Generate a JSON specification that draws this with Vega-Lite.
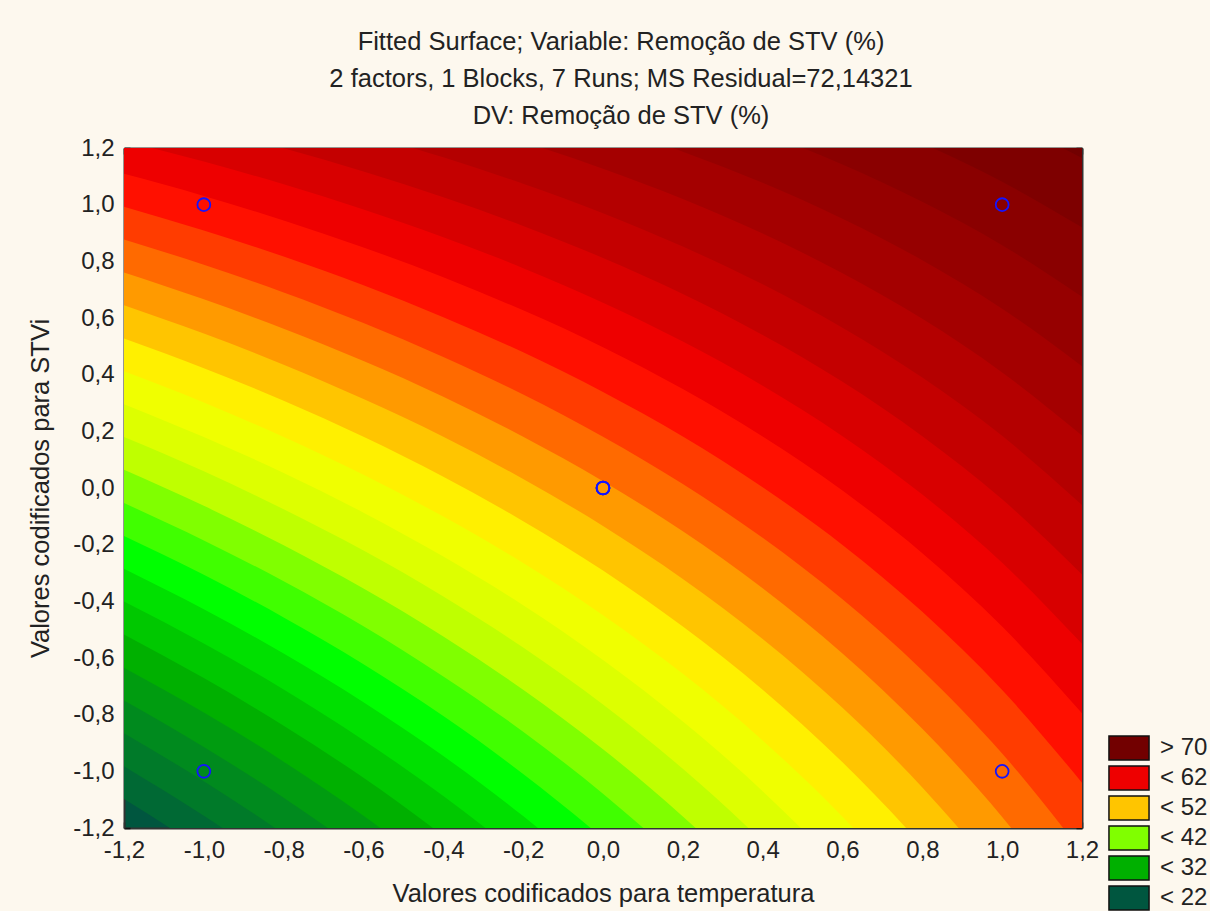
{
  "$schema": "https://vega.github.io/schema/vega-lite/v6.json",
  "width": 958,
  "height": 680,
  "autosize": {"type": "none"},
  "padding": {"left": 124, "top": 148, "right": 128, "bottom": 83},
  "background": "#FDF8EE",
  "title": {
    "text": ["Fitted Surface; Variable: Remoção de STV (%)", "2 factors, 1 Blocks, 7 Runs; MS Residual=72,14321", "DV: Remoção de STV (%)"],
    "anchor": "middle", "dx": 18, "offset": 7, "fontSize": 25.5, "lineHeight": 37,
    "font": "Liberation Sans", "fontWeight": "normal", "color": "#222222"
  },
  "datasets": {
    "contornos": [
      {"x":-1.2,"y":-1.098,"faixa":"< 24"},{"x":-1.0,"y":-1.278,"faixa":"< 24"},{"x":-0.8,"y":-1.475,"faixa":"< 24"},{"x":-0.6,"y":-1.692,"faixa":"< 24"},{"x":-0.4,"y":-1.932,"faixa":"< 24"},{"x":-0.2,"y":-2.199,"faixa":"< 24"},{"x":0,"y":-2.498,"faixa":"< 24"},{"x":0.2,"y":-2.834,"faixa":"< 24"},{"x":0.4,"y":-3.216,"faixa":"< 24"},{"x":0.6,"y":-3.653,"faixa":"< 24"},{"x":0.8,"y":-4.158,"faixa":"< 24"},{"x":1.0,"y":-4.749,"faixa":"< 24"},{"x":1.2,"y":-5.448,"faixa":"< 24"},
      {"x":-1.2,"y":-0.982,"faixa":"< 26"},{"x":-1.0,"y":-1.157,"faixa":"< 26"},{"x":-0.8,"y":-1.348,"faixa":"< 26"},{"x":-0.6,"y":-1.558,"faixa":"< 26"},{"x":-0.4,"y":-1.791,"faixa":"< 26"},{"x":-0.2,"y":-2.050,"faixa":"< 26"},{"x":0,"y":-2.340,"faixa":"< 26"},{"x":0.2,"y":-2.667,"faixa":"< 26"},{"x":0.4,"y":-3.037,"faixa":"< 26"},{"x":0.6,"y":-3.461,"faixa":"< 26"},{"x":0.8,"y":-3.951,"faixa":"< 26"},{"x":1.0,"y":-4.524,"faixa":"< 26"},{"x":1.2,"y":-5.203,"faixa":"< 26"},
      {"x":-1.2,"y":-0.866,"faixa":"< 28"},{"x":-1.0,"y":-1.035,"faixa":"< 28"},{"x":-0.8,"y":-1.221,"faixa":"< 28"},{"x":-0.6,"y":-1.425,"faixa":"< 28"},{"x":-0.4,"y":-1.651,"faixa":"< 28"},{"x":-0.2,"y":-1.902,"faixa":"< 28"},{"x":0,"y":-2.183,"faixa":"< 28"},{"x":0.2,"y":-2.499,"faixa":"< 28"},{"x":0.4,"y":-2.858,"faixa":"< 28"},{"x":0.6,"y":-3.270,"faixa":"< 28"},{"x":0.8,"y":-3.745,"faixa":"< 28"},{"x":1.0,"y":-4.300,"faixa":"< 28"},{"x":1.2,"y":-4.958,"faixa":"< 28"},
      {"x":-1.2,"y":-0.750,"faixa":"< 30"},{"x":-1.0,"y":-0.914,"faixa":"< 30"},{"x":-0.8,"y":-1.093,"faixa":"< 30"},{"x":-0.6,"y":-1.291,"faixa":"< 30"},{"x":-0.4,"y":-1.510,"faixa":"< 30"},{"x":-0.2,"y":-1.753,"faixa":"< 30"},{"x":0,"y":-2.025,"faixa":"< 30"},{"x":0.2,"y":-2.332,"faixa":"< 30"},{"x":0.4,"y":-2.680,"faixa":"< 30"},{"x":0.6,"y":-3.078,"faixa":"< 30"},{"x":0.8,"y":-3.538,"faixa":"< 30"},{"x":1.0,"y":-4.076,"faixa":"< 30"},{"x":1.2,"y":-4.713,"faixa":"< 30"},
      {"x":-1.2,"y":-0.634,"faixa":"< 32"},{"x":-1.0,"y":-0.792,"faixa":"< 32"},{"x":-0.8,"y":-0.966,"faixa":"< 32"},{"x":-0.6,"y":-1.157,"faixa":"< 32"},{"x":-0.4,"y":-1.369,"faixa":"< 32"},{"x":-0.2,"y":-1.604,"faixa":"< 32"},{"x":0,"y":-1.867,"faixa":"< 32"},{"x":0.2,"y":-2.164,"faixa":"< 32"},{"x":0.4,"y":-2.501,"faixa":"< 32"},{"x":0.6,"y":-2.886,"faixa":"< 32"},{"x":0.8,"y":-3.331,"faixa":"< 32"},{"x":1.0,"y":-3.852,"faixa":"< 32"},{"x":1.2,"y":-4.468,"faixa":"< 32"},
      {"x":-1.2,"y":-0.517,"faixa":"< 34"},{"x":-1.0,"y":-0.671,"faixa":"< 34"},{"x":-0.8,"y":-0.839,"faixa":"< 34"},{"x":-0.6,"y":-1.023,"faixa":"< 34"},{"x":-0.4,"y":-1.228,"faixa":"< 34"},{"x":-0.2,"y":-1.455,"faixa":"< 34"},{"x":0,"y":-1.710,"faixa":"< 34"},{"x":0.2,"y":-1.997,"faixa":"< 34"},{"x":0.4,"y":-2.322,"faixa":"< 34"},{"x":0.6,"y":-2.694,"faixa":"< 34"},{"x":0.8,"y":-3.124,"faixa":"< 34"},{"x":1.0,"y":-3.628,"faixa":"< 34"},{"x":1.2,"y":-4.224,"faixa":"< 34"},
      {"x":-1.2,"y":-0.401,"faixa":"< 36"},{"x":-1.0,"y":-0.549,"faixa":"< 36"},{"x":-0.8,"y":-0.711,"faixa":"< 36"},{"x":-0.6,"y":-0.890,"faixa":"< 36"},{"x":-0.4,"y":-1.087,"faixa":"< 36"},{"x":-0.2,"y":-1.307,"faixa":"< 36"},{"x":0,"y":-1.552,"faixa":"< 36"},{"x":0.2,"y":-1.829,"faixa":"< 36"},{"x":0.4,"y":-2.143,"faixa":"< 36"},{"x":0.6,"y":-2.502,"faixa":"< 36"},{"x":0.8,"y":-2.918,"faixa":"< 36"},{"x":1.0,"y":-3.403,"faixa":"< 36"},{"x":1.2,"y":-3.979,"faixa":"< 36"},
      {"x":-1.2,"y":-0.285,"faixa":"< 38"},{"x":-1.0,"y":-0.428,"faixa":"< 38"},{"x":-0.8,"y":-0.584,"faixa":"< 38"},{"x":-0.6,"y":-0.756,"faixa":"< 38"},{"x":-0.4,"y":-0.946,"faixa":"< 38"},{"x":-0.2,"y":-1.158,"faixa":"< 38"},{"x":0,"y":-1.395,"faixa":"< 38"},{"x":0.2,"y":-1.661,"faixa":"< 38"},{"x":0.4,"y":-1.964,"faixa":"< 38"},{"x":0.6,"y":-2.311,"faixa":"< 38"},{"x":0.8,"y":-2.711,"faixa":"< 38"},{"x":1.0,"y":-3.179,"faixa":"< 38"},{"x":1.2,"y":-3.734,"faixa":"< 38"},
      {"x":-1.2,"y":-0.169,"faixa":"< 40"},{"x":-1.0,"y":-0.306,"faixa":"< 40"},{"x":-0.8,"y":-0.457,"faixa":"< 40"},{"x":-0.6,"y":-0.622,"faixa":"< 40"},{"x":-0.4,"y":-0.805,"faixa":"< 40"},{"x":-0.2,"y":-1.009,"faixa":"< 40"},{"x":0,"y":-1.237,"faixa":"< 40"},{"x":0.2,"y":-1.494,"faixa":"< 40"},{"x":0.4,"y":-1.785,"faixa":"< 40"},{"x":0.6,"y":-2.119,"faixa":"< 40"},{"x":0.8,"y":-2.504,"faixa":"< 40"},{"x":1.0,"y":-2.955,"faixa":"< 40"},{"x":1.2,"y":-3.489,"faixa":"< 40"},
      {"x":-1.2,"y":-0.053,"faixa":"< 42"},{"x":-1.0,"y":-0.185,"faixa":"< 42"},{"x":-0.8,"y":-0.329,"faixa":"< 42"},{"x":-0.6,"y":-0.488,"faixa":"< 42"},{"x":-0.4,"y":-0.665,"faixa":"< 42"},{"x":-0.2,"y":-0.860,"faixa":"< 42"},{"x":0,"y":-1.079,"faixa":"< 42"},{"x":0.2,"y":-1.326,"faixa":"< 42"},{"x":0.4,"y":-1.606,"faixa":"< 42"},{"x":0.6,"y":-1.927,"faixa":"< 42"},{"x":0.8,"y":-2.297,"faixa":"< 42"},{"x":1.0,"y":-2.731,"faixa":"< 42"},{"x":1.2,"y":-3.244,"faixa":"< 42"},
      {"x":-1.2,"y":0.064,"faixa":"< 44"},{"x":-1.0,"y":-0.063,"faixa":"< 44"},{"x":-0.8,"y":-0.202,"faixa":"< 44"},{"x":-0.6,"y":-0.355,"faixa":"< 44"},{"x":-0.4,"y":-0.524,"faixa":"< 44"},{"x":-0.2,"y":-0.712,"faixa":"< 44"},{"x":0,"y":-0.922,"faixa":"< 44"},{"x":0.2,"y":-1.159,"faixa":"< 44"},{"x":0.4,"y":-1.428,"faixa":"< 44"},{"x":0.6,"y":-1.735,"faixa":"< 44"},{"x":0.8,"y":-2.091,"faixa":"< 44"},{"x":1.0,"y":-2.507,"faixa":"< 44"},{"x":1.2,"y":-2.999,"faixa":"< 44"},
      {"x":-1.2,"y":0.180,"faixa":"< 46"},{"x":-1.0,"y":0.059,"faixa":"< 46"},{"x":-0.8,"y":-0.075,"faixa":"< 46"},{"x":-0.6,"y":-0.221,"faixa":"< 46"},{"x":-0.4,"y":-0.383,"faixa":"< 46"},{"x":-0.2,"y":-0.563,"faixa":"< 46"},{"x":0,"y":-0.764,"faixa":"< 46"},{"x":0.2,"y":-0.991,"faixa":"< 46"},{"x":0.4,"y":-1.249,"faixa":"< 46"},{"x":0.6,"y":-1.544,"faixa":"< 46"},{"x":0.8,"y":-1.884,"faixa":"< 46"},{"x":1.0,"y":-2.282,"faixa":"< 46"},{"x":1.2,"y":-2.754,"faixa":"< 46"},
      {"x":-1.2,"y":0.296,"faixa":"< 48"},{"x":-1.0,"y":0.180,"faixa":"< 48"},{"x":-0.8,"y":0.053,"faixa":"< 48"},{"x":-0.6,"y":-0.087,"faixa":"< 48"},{"x":-0.4,"y":-0.242,"faixa":"< 48"},{"x":-0.2,"y":-0.414,"faixa":"< 48"},{"x":0,"y":-0.607,"faixa":"< 48"},{"x":0.2,"y":-0.824,"faixa":"< 48"},{"x":0.4,"y":-1.070,"faixa":"< 48"},{"x":0.6,"y":-1.352,"faixa":"< 48"},{"x":0.8,"y":-1.677,"faixa":"< 48"},{"x":1.0,"y":-2.058,"faixa":"< 48"},{"x":1.2,"y":-2.509,"faixa":"< 48"},
      {"x":-1.2,"y":0.412,"faixa":"< 50"},{"x":-1.0,"y":0.302,"faixa":"< 50"},{"x":-0.8,"y":0.180,"faixa":"< 50"},{"x":-0.6,"y":0.047,"faixa":"< 50"},{"x":-0.4,"y":-0.101,"faixa":"< 50"},{"x":-0.2,"y":-0.265,"faixa":"< 50"},{"x":0,"y":-0.449,"faixa":"< 50"},{"x":0.2,"y":-0.656,"faixa":"< 50"},{"x":0.4,"y":-0.891,"faixa":"< 50"},{"x":0.6,"y":-1.160,"faixa":"< 50"},{"x":0.8,"y":-1.471,"faixa":"< 50"},{"x":1.0,"y":-1.834,"faixa":"< 50"},{"x":1.2,"y":-2.264,"faixa":"< 50"},
      {"x":-1.2,"y":0.528,"faixa":"< 52"},{"x":-1.0,"y":0.423,"faixa":"< 52"},{"x":-0.8,"y":0.308,"faixa":"< 52"},{"x":-0.6,"y":0.181,"faixa":"< 52"},{"x":-0.4,"y":0.040,"faixa":"< 52"},{"x":-0.2,"y":-0.117,"faixa":"< 52"},{"x":0,"y":-0.291,"faixa":"< 52"},{"x":0.2,"y":-0.489,"faixa":"< 52"},{"x":0.4,"y":-0.712,"faixa":"< 52"},{"x":0.6,"y":-0.968,"faixa":"< 52"},{"x":0.8,"y":-1.264,"faixa":"< 52"},{"x":1.0,"y":-1.610,"faixa":"< 52"},{"x":1.2,"y":-2.019,"faixa":"< 52"},
      {"x":-1.2,"y":0.645,"faixa":"< 54"},{"x":-1.0,"y":0.545,"faixa":"< 54"},{"x":-0.8,"y":0.435,"faixa":"< 54"},{"x":-0.6,"y":0.314,"faixa":"< 54"},{"x":-0.4,"y":0.181,"faixa":"< 54"},{"x":-0.2,"y":0.032,"faixa":"< 54"},{"x":0,"y":-0.134,"faixa":"< 54"},{"x":0.2,"y":-0.321,"faixa":"< 54"},{"x":0.4,"y":-0.533,"faixa":"< 54"},{"x":0.6,"y":-0.776,"faixa":"< 54"},{"x":0.8,"y":-1.057,"faixa":"< 54"},{"x":1.0,"y":-1.386,"faixa":"< 54"},{"x":1.2,"y":-1.775,"faixa":"< 54"},
      {"x":-1.2,"y":0.761,"faixa":"< 56"},{"x":-1.0,"y":0.666,"faixa":"< 56"},{"x":-0.8,"y":0.562,"faixa":"< 56"},{"x":-0.6,"y":0.448,"faixa":"< 56"},{"x":-0.4,"y":0.322,"faixa":"< 56"},{"x":-0.2,"y":0.181,"faixa":"< 56"},{"x":0,"y":0.024,"faixa":"< 56"},{"x":0.2,"y":-0.153,"faixa":"< 56"},{"x":0.4,"y":-0.354,"faixa":"< 56"},{"x":0.6,"y":-0.584,"faixa":"< 56"},{"x":0.8,"y":-0.850,"faixa":"< 56"},{"x":1.0,"y":-1.161,"faixa":"< 56"},{"x":1.2,"y":-1.530,"faixa":"< 56"},
      {"x":-1.2,"y":0.877,"faixa":"< 58"},{"x":-1.0,"y":0.788,"faixa":"< 58"},{"x":-0.8,"y":0.690,"faixa":"< 58"},{"x":-0.6,"y":0.582,"faixa":"< 58"},{"x":-0.4,"y":0.462,"faixa":"< 58"},{"x":-0.2,"y":0.330,"faixa":"< 58"},{"x":0,"y":0.181,"faixa":"< 58"},{"x":0.2,"y":0.014,"faixa":"< 58"},{"x":0.4,"y":-0.176,"faixa":"< 58"},{"x":0.6,"y":-0.393,"faixa":"< 58"},{"x":0.8,"y":-0.644,"faixa":"< 58"},{"x":1.0,"y":-0.937,"faixa":"< 58"},{"x":1.2,"y":-1.285,"faixa":"< 58"},
      {"x":-1.2,"y":0.993,"faixa":"< 60"},{"x":-1.0,"y":0.909,"faixa":"< 60"},{"x":-0.8,"y":0.817,"faixa":"< 60"},{"x":-0.6,"y":0.716,"faixa":"< 60"},{"x":-0.4,"y":0.603,"faixa":"< 60"},{"x":-0.2,"y":0.479,"faixa":"< 60"},{"x":0,"y":0.339,"faixa":"< 60"},{"x":0.2,"y":0.182,"faixa":"< 60"},{"x":0.4,"y":0.003,"faixa":"< 60"},{"x":0.6,"y":-0.201,"faixa":"< 60"},{"x":0.8,"y":-0.437,"faixa":"< 60"},{"x":1.0,"y":-0.713,"faixa":"< 60"},{"x":1.2,"y":-1.040,"faixa":"< 60"},
      {"x":-1.2,"y":1.109,"faixa":"< 62"},{"x":-1.0,"y":1.031,"faixa":"< 62"},{"x":-0.8,"y":0.944,"faixa":"< 62"},{"x":-0.6,"y":0.849,"faixa":"< 62"},{"x":-0.4,"y":0.744,"faixa":"< 62"},{"x":-0.2,"y":0.627,"faixa":"< 62"},{"x":0,"y":0.497,"faixa":"< 62"},{"x":0.2,"y":0.349,"faixa":"< 62"},{"x":0.4,"y":0.182,"faixa":"< 62"},{"x":0.6,"y":-0.009,"faixa":"< 62"},{"x":0.8,"y":-0.230,"faixa":"< 62"},{"x":1.0,"y":-0.489,"faixa":"< 62"},{"x":1.2,"y":-0.795,"faixa":"< 62"},
      {"x":-1.2,"y":1.225,"faixa":"< 64"},{"x":-1.0,"y":1.152,"faixa":"< 64"},{"x":-0.8,"y":1.072,"faixa":"< 64"},{"x":-0.6,"y":0.983,"faixa":"< 64"},{"x":-0.4,"y":0.885,"faixa":"< 64"},{"x":-0.2,"y":0.776,"faixa":"< 64"},{"x":0,"y":0.654,"faixa":"< 64"},{"x":0.2,"y":0.517,"faixa":"< 64"},{"x":0.4,"y":0.361,"faixa":"< 64"},{"x":0.6,"y":0.183,"faixa":"< 64"},{"x":0.8,"y":-0.023,"faixa":"< 64"},{"x":1.0,"y":-0.264,"faixa":"< 64"},{"x":1.2,"y":-0.550,"faixa":"< 64"},
      {"x":-1.2,"y":1.342,"faixa":"< 66"},{"x":-1.0,"y":1.274,"faixa":"< 66"},{"x":-0.8,"y":1.199,"faixa":"< 66"},{"x":-0.6,"y":1.117,"faixa":"< 66"},{"x":-0.4,"y":1.026,"faixa":"< 66"},{"x":-0.2,"y":0.925,"faixa":"< 66"},{"x":0,"y":0.812,"faixa":"< 66"},{"x":0.2,"y":0.685,"faixa":"< 66"},{"x":0.4,"y":0.540,"faixa":"< 66"},{"x":0.6,"y":0.375,"faixa":"< 66"},{"x":0.8,"y":0.183,"faixa":"< 66"},{"x":1.0,"y":-0.040,"faixa":"< 66"},{"x":1.2,"y":-0.305,"faixa":"< 66"},
      {"x":-1.2,"y":1.458,"faixa":"< 68"},{"x":-1.0,"y":1.395,"faixa":"< 68"},{"x":-0.8,"y":1.326,"faixa":"< 68"},{"x":-0.6,"y":1.251,"faixa":"< 68"},{"x":-0.4,"y":1.167,"faixa":"< 68"},{"x":-0.2,"y":1.074,"faixa":"< 68"},{"x":0,"y":0.970,"faixa":"< 68"},{"x":0.2,"y":0.852,"faixa":"< 68"},{"x":0.4,"y":0.719,"faixa":"< 68"},{"x":0.6,"y":0.566,"faixa":"< 68"},{"x":0.8,"y":0.390,"faixa":"< 68"},{"x":1.0,"y":0.184,"faixa":"< 68"},{"x":1.2,"y":-0.060,"faixa":"< 68"},
      {"x":-1.2,"y":1.574,"faixa":"< 70"},{"x":-1.0,"y":1.517,"faixa":"< 70"},{"x":-0.8,"y":1.454,"faixa":"< 70"},{"x":-0.6,"y":1.384,"faixa":"< 70"},{"x":-0.4,"y":1.308,"faixa":"< 70"},{"x":-0.2,"y":1.222,"faixa":"< 70"},{"x":0,"y":1.127,"faixa":"< 70"},{"x":0.2,"y":1.020,"faixa":"< 70"},{"x":0.4,"y":0.898,"faixa":"< 70"},{"x":0.6,"y":0.758,"faixa":"< 70"},{"x":0.8,"y":0.597,"faixa":"< 70"},{"x":1.0,"y":0.408,"faixa":"< 70"},{"x":1.2,"y":0.185,"faixa":"< 70"},
      {"x":-1.2,"y":1.690,"faixa":"< 72"},{"x":-1.0,"y":1.638,"faixa":"< 72"},{"x":-0.8,"y":1.581,"faixa":"< 72"},{"x":-0.6,"y":1.518,"faixa":"< 72"},{"x":-0.4,"y":1.448,"faixa":"< 72"},{"x":-0.2,"y":1.371,"faixa":"< 72"},{"x":0,"y":1.285,"faixa":"< 72"},{"x":0.2,"y":1.187,"faixa":"< 72"},{"x":0.4,"y":1.077,"faixa":"< 72"},{"x":0.6,"y":0.950,"faixa":"< 72"},{"x":0.8,"y":0.804,"faixa":"< 72"},{"x":1.0,"y":0.633,"faixa":"< 72"},{"x":1.2,"y":0.430,"faixa":"< 72"},
      {"x":-1.2,"y":1.806,"faixa":"< 74"},{"x":-1.0,"y":1.760,"faixa":"< 74"},{"x":-0.8,"y":1.708,"faixa":"< 74"},{"x":-0.6,"y":1.652,"faixa":"< 74"},{"x":-0.4,"y":1.589,"faixa":"< 74"},{"x":-0.2,"y":1.520,"faixa":"< 74"},{"x":0,"y":1.442,"faixa":"< 74"},{"x":0.2,"y":1.355,"faixa":"< 74"},{"x":0.4,"y":1.255,"faixa":"< 74"},{"x":0.6,"y":1.142,"faixa":"< 74"},{"x":0.8,"y":1.010,"faixa":"< 74"},{"x":1.0,"y":0.857,"faixa":"< 74"},{"x":1.2,"y":0.675,"faixa":"< 74"},
      {"x":-1.2,"y":1.923,"faixa":"< 76"},{"x":-1.0,"y":1.881,"faixa":"< 76"},{"x":-0.8,"y":1.836,"faixa":"< 76"},{"x":-0.6,"y":1.786,"faixa":"< 76"},{"x":-0.4,"y":1.730,"faixa":"< 76"},{"x":-0.2,"y":1.669,"faixa":"< 76"},{"x":0,"y":1.600,"faixa":"< 76"},{"x":0.2,"y":1.522,"faixa":"< 76"},{"x":0.4,"y":1.434,"faixa":"< 76"},{"x":0.6,"y":1.334,"faixa":"< 76"},{"x":0.8,"y":1.217,"faixa":"< 76"},{"x":1.0,"y":1.081,"faixa":"< 76"},{"x":1.2,"y":0.920,"faixa":"< 76"},
      {"x":-1.2,"y":2.039,"faixa":"> 70"},{"x":-1.0,"y":2.003,"faixa":"> 70"},{"x":-0.8,"y":1.963,"faixa":"> 70"},{"x":-0.6,"y":1.919,"faixa":"> 70"},{"x":-0.4,"y":1.871,"faixa":"> 70"},{"x":-0.2,"y":1.818,"faixa":"> 70"},{"x":0,"y":1.758,"faixa":"> 70"},{"x":0.2,"y":1.690,"faixa":"> 70"},{"x":0.4,"y":1.613,"faixa":"> 70"},{"x":0.6,"y":1.525,"faixa":"> 70"},{"x":0.8,"y":1.424,"faixa":"> 70"},{"x":1.0,"y":1.305,"faixa":"> 70"},{"x":1.2,"y":1.165,"faixa":"> 70"}
    ],
    "ensaios": [
      {"x":-1,"y":-1},{"x":1,"y":-1},{"x":-1,"y":1},{"x":1,"y":1},{"x":0,"y":0},{"x":0,"y":0},{"x":0,"y":0}
    ]
  },
  "layer": [
    {
      "data": {"name": "contornos"},
      "mark": {"type": "area", "orient": "vertical", "interpolate": "monotone", "clip": true},
      "encoding": {
        "x": {
          "field": "x", "type": "quantitative",
          "scale": {"domain": [-1.2, 1.2], "nice": false, "zero": false},
          "axis": {
            "orient": "bottom",
            "values": [-1.2, -1.0, -0.8, -0.6, -0.4, -0.2, 0, 0.2, 0.4, 0.6, 0.8, 1.0, 1.2],
            "labelExpr": "replace(replace(format(datum.value, '.1f'), '.', ','), '\u2212', '-')",
            "title": "Valores codificados para temperatura",
            "tickSize": -6, "labelPadding": 16, "titlePadding": 19
          }
        },
        "y": {
          "field": "y", "type": "quantitative", "stack": null,
          "scale": {"domain": [-1.2, 1.2], "nice": false, "zero": false},
          "axis": {
            "orient": "left",
            "values": [-1.2, -1.0, -0.8, -0.6, -0.4, -0.2, 0, 0.2, 0.4, 0.6, 0.8, 1.0, 1.2],
            "labelExpr": "replace(replace(format(datum.value, '.1f'), '.', ','), '\u2212', '-')",
            "title": "Valores codificados para STVi",
            "tickSize": -6, "labelPadding": 16, "titlePadding": 19
          }
        },
        "y2": {"datum": 1.2},
        "color": {
          "field": "faixa", "type": "nominal",
          "scale": {
            "domain": ["< 22","< 24","< 26","< 28","< 30","< 32","< 34","< 36","< 38","< 40","< 42","< 44","< 46","< 48","< 50","< 52","< 54","< 56","< 58","< 60","< 62","< 64","< 66","< 68","< 70","< 72","< 74","< 76","> 70"],
            "range": ["#00563F","#006934","#007A29","#008A1E","#009C10","#00B000","#00C800","#00E000","#00FF00","#40FF00","#80FF00","#BFFF00","#DDFF00","#F0FF00","#FFF000","#FFC500","#FF9A00","#FF6A00","#FF3C00","#FF1000","#EE0000","#D80000","#C40000","#B40000","#A40000","#960000","#8A0000","#7E0000","#720000"]
          },
          "legend": {
            "title": null,
            "values": ["> 70", "< 62", "< 52", "< 42", "< 32", "< 22"],
            "orient": "none", "legendX": 992, "legendY": 587,
            "symbolType": "M-1.67,-1H1.67V1H-1.67Z", "symbolSize": 576,
            "symbolStrokeColor": "#111111", "symbolStrokeWidth": 1.5, "symbolOpacity": 1,
            "labelFont": "Liberation Sans", "labelFontSize": 24, "labelColor": "#222222",
            "labelOffset": 18, "rowPadding": 0, "padding": 0
          }
        }
      }
    },
    {
      "data": {"name": "ensaios"},
      "mark": {"type": "point", "shape": "circle", "filled": false, "color": "#1414FF", "size": 165, "strokeWidth": 1.8, "opacity": 1},
      "encoding": {
        "x": {
          "field": "x", "type": "quantitative",
          "scale": {"domain": [-1.2, 1.2], "nice": false, "zero": false},
          "axis": {"orient": "top", "values": [-1.2, -1.0, -0.8, -0.6, -0.4, -0.2, 0, 0.2, 0.4, 0.6, 0.8, 1.0, 1.2], "labels": false, "title": null, "tickSize": -6}
        },
        "y": {
          "field": "y", "type": "quantitative",
          "scale": {"domain": [-1.2, 1.2], "nice": false, "zero": false},
          "axis": {"orient": "right", "values": [-1.2, -1.0, -0.8, -0.6, -0.4, -0.2, 0, 0.2, 0.4, 0.6, 0.8, 1.0, 1.2], "labels": false, "title": null, "tickSize": -6}
        }
      }
    }
  ],
  "resolve": {"axis": {"x": "independent", "y": "independent"}},
  "config": {
    "view": {"stroke": null, "fill": "#00563F"},
    "axis": {
      "grid": false, "domain": true, "domainColor": "#333333", "domainWidth": 2,
      "zindex": 1,
      "labelFont": "Liberation Sans", "labelFontSize": 24, "labelColor": "#222222",
      "titleFont": "Liberation Sans", "titleFontSize": 25.5, "titleFontWeight": "normal", "titleColor": "#222222",
      "tickColor": "#111111", "tickWidth": 1.5, "labelFlush": false, "labelOverlap": false
    }
  }
}
